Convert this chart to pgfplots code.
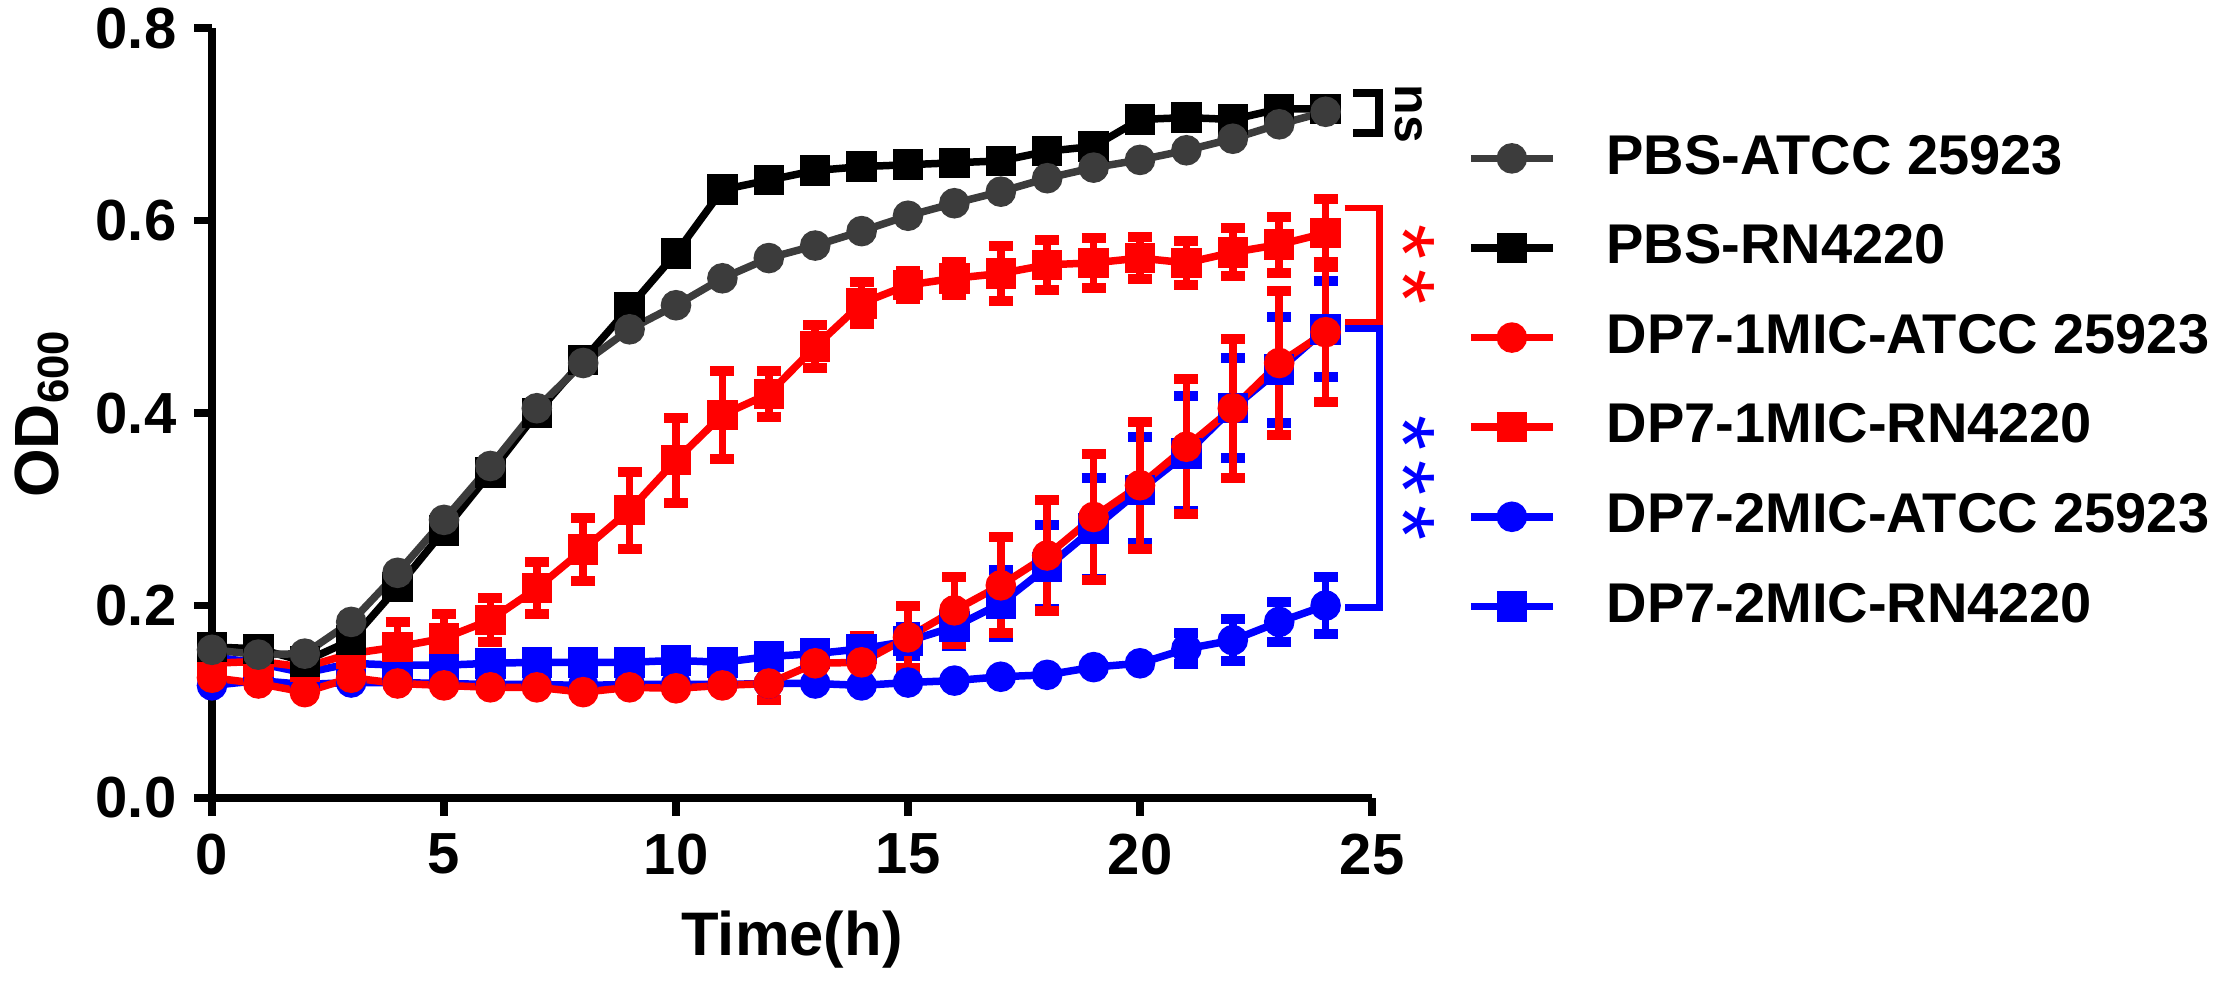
\documentclass[border=0pt]{standalone}
\usepackage{fontspec}
\setmainfont{Liberation Sans}
\usepackage{pgfplots}
\pgfplotsset{compat=1.18}
\usepackage{pgfplotstable}

\definecolor{dgray}{RGB}{60,60,60}
\definecolor{pred}{RGB}{255,0,0}
\definecolor{pblue}{RGB}{0,0,255}

% PBS-ATCC 25923 (grey circles)
\pgfplotstableread{
t y
0 0.154
1 0.149
2 0.150
3 0.183
4 0.234
5 0.289
6 0.345
7 0.405
8 0.452
9 0.487
10 0.512
11 0.540
12 0.561
13 0.574
14 0.589
15 0.605
16 0.618
17 0.630
18 0.644
19 0.655
20 0.663
21 0.673
22 0.685
23 0.700
24 0.713
}\pbsatcc

% PBS-RN4220 (black squares)
\pgfplotstableread{
t y
0 0.157
1 0.155
2 0.142
3 0.164
4 0.219
5 0.278
6 0.338
7 0.400
8 0.455
9 0.510
10 0.566
11 0.632
12 0.642
13 0.652
14 0.656
15 0.658
16 0.660
17 0.662
18 0.672
19 0.677
20 0.705
21 0.707
22 0.705
23 0.716
24 0.716
}\pbsrn

% DP7-1MIC-ATCC 25923 (red circles)
\pgfplotstableread{
t y e
0 0.125 0
1 0.119 0
2 0.110 0
3 0.125 0
4 0.119 0
5 0.117 0
6 0.115 0
7 0.115 0
8 0.110 0
9 0.115 0
10 0.114 0
11 0.117 0
12 0.119 0.017
13 0.140 0.019
14 0.141 0.027
15 0.167 0.032
16 0.195 0.035
17 0.221 0.050
18 0.252 0.058
19 0.292 0.065
20 0.325 0.066
21 0.365 0.070
22 0.405 0.072
23 0.452 0.075
24 0.484 0.073
}\oneatcc

% DP7-1MIC-RN4220 (red squares)
\pgfplotstableread{
t y e
0 0.140 0
1 0.142 0
2 0.136 0
3 0.150 0.010
4 0.157 0.026
5 0.166 0.025
6 0.185 0.023
7 0.218 0.027
8 0.258 0.033
9 0.299 0.040
10 0.351 0.044
11 0.398 0.046
12 0.420 0.024
13 0.469 0.022
14 0.514 0.022
15 0.533 0.015
16 0.540 0.017
17 0.545 0.029
18 0.554 0.026
19 0.556 0.026
20 0.561 0.022
21 0.556 0.023
22 0.567 0.025
23 0.575 0.029
24 0.587 0.035
}\onern

% DP7-2MIC-ATCC 25923 (blue circles)
\pgfplotstableread{
t y e
0 0.117 0
1 0.122 0
2 0.118 0
3 0.120 0
4 0.120 0
5 0.119 0
6 0.118 0
7 0.118 0
8 0.117 0
9 0.118 0
10 0.118 0
11 0.118 0
12 0.119 0
13 0.119 0
14 0.117 0
15 0.120 0
16 0.122 0
17 0.126 0
18 0.128 0
19 0.136 0
20 0.140 0
21 0.155 0.016
22 0.164 0.022
23 0.183 0.021
24 0.200 0.030
}\twoatcc

% DP7-2MIC-RN4220 (blue squares)
\pgfplotstableread{
t y e
0 0.147 0
1 0.140 0
2 0.130 0
3 0.140 0
4 0.138 0
5 0.138 0
6 0.140 0
7 0.141 0
8 0.141 0
9 0.141 0
10 0.143 0
11 0.141 0
12 0.147 0
13 0.150 0
14 0.155 0.008
15 0.163 0.015
16 0.178 0.020
17 0.202 0.035
18 0.240 0.044
19 0.280 0.052
20 0.320 0.055
21 0.358 0.060
22 0.405 0.052
23 0.445 0.055
24 0.487 0.050
}\tworn

\begin{document}
\begin{tikzpicture}
\useasboundingbox (-42.4pt,-36.4pt) rectangle (400.6pt,159.6pt);
\begin{axis}[
  at={(0,0)}, anchor=south west,
  scale only axis, width=232pt, height=154pt,
  xmin=0, xmax=25, ymin=0, ymax=0.8,
  clip=false,
  axis x line*=bottom, axis y line*=left,
  axis line style={line width=1.5pt, black, -},
  tick align=outside, major tick length=3.6pt,
  every tick/.style={line width=1.5pt, black},
  xtick={0,5,10,15,20,25}, ytick={0,0.2,0.4,0.6,0.8},
  minor tick num=0,
  tick label style={font=\fontsize{11.6}{13}\selectfont\bfseries},
  /pgf/number format/assume math mode=true,
  yticklabel style={/pgf/number format/.cd, fixed, fixed zerofill, precision=1},
  xticklabel style={/pgf/number format/.cd, fixed},
  xlabel={Time(h)},
  ylabel={OD\textsubscript{600}},
  xlabel style={at={(axis description cs:0.5,-0.184)}, anchor=center, font=\fontsize{12.3}{14}\selectfont\bfseries},
  ylabel style={at={(axis description cs:-0.147,0.5)}, anchor=center, font=\fontsize{12.5}{14}\selectfont\bfseries},
  reverse legend,
  legend cell align=left,
  legend style={draw=none, fill=none, inner sep=0pt, outer sep=0pt,
    at={(axis description cs:1.082,0.861)}, anchor=north west,
    row sep=8.6pt,
    font=\fontsize{11.2}{13}\selectfont\bfseries,
    nodes={inner sep=0pt},
    /tikz/every odd column/.append style={column sep=10pt}},
  legend image code/.code={\draw[mark repeat=2,mark phase=2,#1] plot coordinates {(0pt,0pt) (8.2pt,0pt) (16.4pt,0pt)};},
  every axis plot/.append style={line width=1.5pt},
]
% DP7-2MIC-RN4220
\addplot[pblue, line width=1.5pt, mark=square*, mark size=2.3pt, mark options={solid, fill=pblue},
  error bars/.cd, y dir=both, y explicit, error mark=|,
  error bar style={line width=1.5pt, pblue},
  error mark options={line width=2pt, mark size=2.4pt, pblue}]
  table[x=t, y=y, y error=e]{\tworn};
\addlegendentry{DP7-2MIC-RN4220}
% DP7-2MIC-ATCC 25923
\addplot[pblue, line width=1.5pt, mark=*, mark size=2.3pt, mark options={solid, fill=pblue},
  error bars/.cd, y dir=both, y explicit, error mark=|,
  error bar style={line width=1.5pt, pblue},
  error mark options={line width=2pt, mark size=2.4pt, pblue}]
  table[x=t, y=y, y error=e]{\twoatcc};
\addlegendentry{DP7-2MIC-ATCC 25923}
% DP7-1MIC-RN4220
\addplot[pred, line width=1.5pt, mark=square*, mark size=2.3pt, mark options={solid, fill=pred},
  error bars/.cd, y dir=both, y explicit, error mark=|,
  error bar style={line width=1.5pt, pred},
  error mark options={line width=2pt, mark size=2.4pt, pred}]
  table[x=t, y=y, y error=e]{\onern};
\addlegendentry{DP7-1MIC-RN4220}
% DP7-1MIC-ATCC 25923
\addplot[pred, line width=1.5pt, mark=*, mark size=2.3pt, mark options={solid, fill=pred},
  error bars/.cd, y dir=both, y explicit, error mark=|,
  error bar style={line width=1.5pt, pred},
  error mark options={line width=2pt, mark size=2.4pt, pred}]
  table[x=t, y=y, y error=e]{\oneatcc};
\addlegendentry{DP7-1MIC-ATCC 25923}
% PBS-RN4220
\addplot[black, line width=1.5pt, mark=square*, mark size=2.3pt, mark options={solid, fill=black}]
  table[x=t, y=y]{\pbsrn};
\addlegendentry{PBS-RN4220}
% PBS-ATCC 25923
\addplot[dgray, line width=1.5pt, mark=*, mark size=2.3pt, mark options={solid, fill=dgray}]
  table[x=t, y=y]{\pbsatcc};
\addlegendentry{PBS-ATCC 25923}

% significance brackets
\draw[line width=1.6pt, black] (axis cs:24.6,0.7325) -- (axis cs:25.16,0.7325) -- (axis cs:25.16,0.691) -- (axis cs:24.6,0.691);
\draw[line width=1.3pt, pred] (axis cs:24.41,0.613) -- (axis cs:25.16,0.613) -- (axis cs:25.16,0.4945) -- (axis cs:24.41,0.4945);
\draw[line width=1.3pt, pblue] (axis cs:24.41,0.488) -- (axis cs:25.16,0.488) -- (axis cs:25.16,0.198) -- (axis cs:24.41,0.198);
\node[rotate=-90, font=\fontsize{10}{12}\selectfont\bfseries, inner sep=0pt] at (axis cs:25.8,0.711) {ns};
\node[rotate=-90, text=pred, font=\fontsize{18}{20}\selectfont, inner sep=0pt] at (axis cs:25.68,0.554) {*\hspace{2pt}*};
\node[rotate=-90, text=pblue, font=\fontsize{18}{20}\selectfont, inner sep=0pt] at (axis cs:25.68,0.332) {*\hspace{2pt}*\hspace{2pt}*};
\end{axis}
\end{tikzpicture}
\end{document}
